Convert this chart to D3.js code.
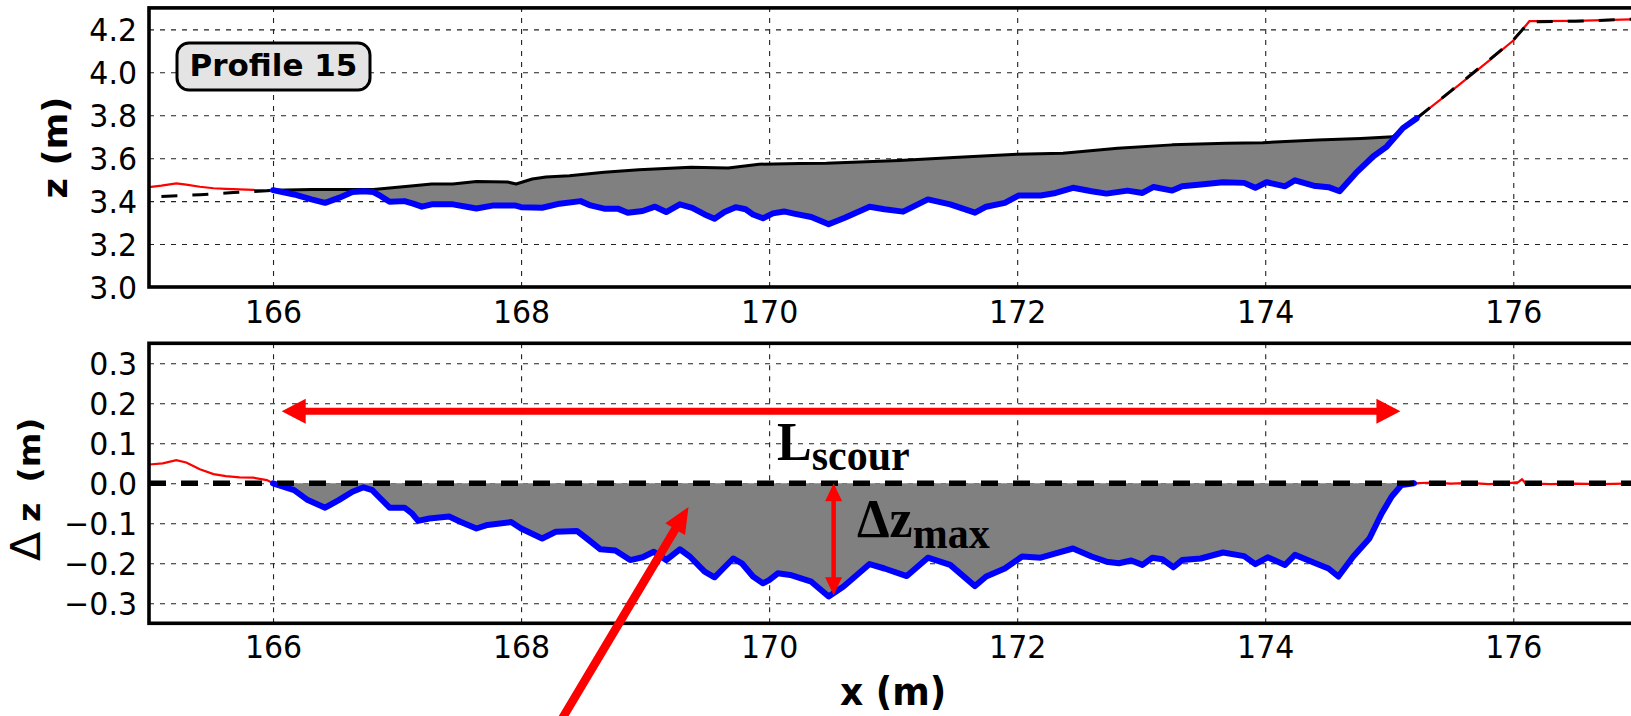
<!DOCTYPE html>
<html><head><meta charset="utf-8">
<script src="https://cdn.jsdelivr.net/npm/d3@7/dist/d3.min.js"></script>
<style>html,body{margin:0;padding:0;background:#fff;} svg{display:block;}</style>
</head><body>
<svg id="chart" width="1631" height="716"></svg>
<script>
// ---------------- DATA ----------------
const xTicks = [166, 168, 170, 172, 174, 176];
const xTickLabels = ["166", "168", "170", "172", "174", "176"];
const zTicks = [3.0, 3.2, 3.4, 3.6, 3.8, 4.0, 4.2];
const zTickLabels = ["3.0", "3.2", "3.4", "3.6", "3.8", "4.0", "4.2"];
const dzTicks = [-0.3, -0.2, -0.1, 0.0, 0.1, 0.2, 0.3];
const dzTickLabels = ["\u22120.3", "\u22120.2", "\u22120.1", "0.0", "0.1", "0.2", "0.3"];

// reference (initial) profile, black
const refX = [165.10, 165.41, 165.68, 165.95, 166.00, 166.31, 166.81, 167.09, 167.28, 167.45, 167.64, 167.89, 167.96, 168.09, 168.20, 168.39, 168.67, 168.95, 169.37, 169.67, 169.92, 170.25, 170.46, 171.05, 171.49, 172.00, 172.37, 172.81, 173.25, 173.69, 173.98, 174.42, 174.77, 175.03, 175.22, 175.50, 175.80, 176.00, 176.13, 176.50, 177.00];
const refZ = [3.422, 3.430, 3.440, 3.448, 3.451, 3.454, 3.454, 3.469, 3.480, 3.480, 3.491, 3.489, 3.480, 3.503, 3.512, 3.518, 3.534, 3.546, 3.558, 3.554, 3.572, 3.575, 3.576, 3.589, 3.603, 3.618, 3.623, 3.646, 3.662, 3.669, 3.672, 3.685, 3.692, 3.700, 3.785, 3.915, 4.055, 4.150, 4.235, 4.238, 4.248];

// measured profile outside the scour hole, red
const measLeftX = [165.00, 165.10, 165.22, 165.30, 165.41, 165.52, 165.62, 165.73, 165.84, 165.95, 166.00];
const measLeftZ = [3.465, 3.472, 3.483, 3.477, 3.467, 3.460, 3.457, 3.455, 3.452, 3.449, 3.450];
const measRightX = [175.22, 175.50, 175.80, 176.00, 176.13, 176.50, 176.95, 177.00];
const measRightZ = [3.785, 3.912, 4.052, 4.148, 4.238, 4.240, 4.247, 4.248];

// measured profile in the scour hole, blue
const scourX = [166.00, 166.17, 166.31, 166.42, 166.53, 166.64, 166.73, 166.81, 166.87, 166.94, 167.06, 167.13, 167.20, 167.28, 167.45, 167.56, 167.64, 167.78, 167.95, 168.00, 168.17, 168.31, 168.48, 168.56, 168.67, 168.78, 168.86, 168.98, 169.08, 169.17, 169.28, 169.38, 169.48, 169.56, 169.64, 169.73, 169.81, 169.87, 169.95, 170.03, 170.12, 170.20, 170.34, 170.48, 170.61, 170.81, 170.93, 171.08, 171.28, 171.46, 171.66, 171.75, 171.90, 172.01, 172.19, 172.31, 172.45, 172.60, 172.72, 172.89, 173.01, 173.10, 173.25, 173.33, 173.48, 173.66, 173.83, 173.92, 174.01, 174.16, 174.24, 174.39, 174.51, 174.60, 174.73, 174.87, 174.98, 175.11, 175.22];
const scourZ = [3.451, 3.431, 3.408, 3.392, 3.415, 3.442, 3.446, 3.442, 3.423, 3.397, 3.400, 3.388, 3.374, 3.385, 3.385, 3.374, 3.366, 3.380, 3.380, 3.372, 3.369, 3.388, 3.400, 3.380, 3.365, 3.365, 3.346, 3.354, 3.374, 3.349, 3.385, 3.369, 3.338, 3.318, 3.349, 3.372, 3.362, 3.338, 3.320, 3.343, 3.352, 3.342, 3.326, 3.292, 3.323, 3.374, 3.362, 3.351, 3.408, 3.385, 3.346, 3.374, 3.392, 3.426, 3.426, 3.438, 3.462, 3.446, 3.435, 3.449, 3.438, 3.466, 3.449, 3.469, 3.477, 3.488, 3.485, 3.462, 3.488, 3.469, 3.497, 3.472, 3.465, 3.446, 3.530, 3.608, 3.654, 3.740, 3.785];

// elevation change, lower panel
const dzLeftX = [165.00, 165.11, 165.22, 165.30, 165.41, 165.52, 165.62, 165.73, 165.84, 165.95, 166.00];
const dzLeft = [0.047, 0.050, 0.058, 0.052, 0.035, 0.023, 0.018, 0.015, 0.014, 0.008, 0.000];
const dzRightX = [175.20, 175.35, 175.50, 175.65, 175.80, 175.95, 176.04, 176.07, 176.10, 176.30, 176.50, 176.70, 176.90, 177.00];
const dzRight = [0.000, 0.002, -0.001, 0.001, -0.002, 0.000, 0.003, 0.010, 0.000, -0.002, -0.001, -0.002, -0.001, 0.000];
const dzScourX = [166.00, 166.17, 166.28, 166.42, 166.53, 166.64, 166.73, 166.80, 166.85, 166.94, 167.06, 167.12, 167.17, 167.26, 167.42, 167.51, 167.64, 167.73, 167.92, 168.00, 168.17, 168.28, 168.45, 168.53, 168.64, 168.76, 168.88, 168.98, 169.07, 169.17, 169.28, 169.36, 169.48, 169.56, 169.63, 169.71, 169.78, 169.87, 169.95, 170.00, 170.07, 170.17, 170.34, 170.48, 170.60, 170.81, 170.93, 171.11, 171.28, 171.46, 171.66, 171.75, 171.90, 172.04, 172.19, 172.31, 172.45, 172.60, 172.72, 172.82, 172.92, 173.01, 173.09, 173.17, 173.26, 173.33, 173.48, 173.66, 173.83, 173.92, 174.02, 174.16, 174.24, 174.39, 174.51, 174.59, 174.71, 174.84, 174.94, 175.02, 175.10, 175.20];
const dzScour = [0.000, -0.017, -0.042, -0.061, -0.042, -0.021, -0.010, -0.017, -0.033, -0.061, -0.061, -0.075, -0.094, -0.088, -0.083, -0.096, -0.113, -0.104, -0.097, -0.113, -0.138, -0.121, -0.119, -0.138, -0.165, -0.168, -0.192, -0.185, -0.171, -0.192, -0.165, -0.183, -0.221, -0.235, -0.213, -0.188, -0.200, -0.233, -0.250, -0.242, -0.225, -0.229, -0.246, -0.283, -0.258, -0.202, -0.213, -0.232, -0.186, -0.204, -0.257, -0.233, -0.213, -0.183, -0.186, -0.175, -0.163, -0.183, -0.196, -0.200, -0.193, -0.204, -0.186, -0.190, -0.210, -0.192, -0.188, -0.173, -0.182, -0.202, -0.185, -0.204, -0.179, -0.198, -0.213, -0.233, -0.183, -0.138, -0.075, -0.033, -0.004, 0.000];
const zeroX = [165.0, 177.0];
const zeroDz = [0.0, 0.0];

// scour limits & max depth (annotation, in data units)
const scourStart = 166.07, scourEnd = 175.09, lscourLevel = 0.18;
const dzMaxX = 170.52, dzMaxVal = -0.28;
const pointerTip = [169.35, -0.059], pointerTail = [168.27, -0.62];

// ---------------- LAYOUT ----------------
const W = 1631, H = 716;
const svg = d3.select("#chart");
svg.append("rect").attr("width", W).attr("height", H).attr("fill", "#fff");
const SY = 1.07;
const x = d3.scaleLinear().domain([165, 177]).range([149, 1637.3]);
const yTop = d3.scaleLinear().domain([3.0, 4.3]).range([287, 7.9]);
const yBot = d3.scaleLinear().domain([-0.35, 0.35]).range([623.3, 343.3]);
const zip = (xs, vs) => xs.map((d, i) => [d, vs[i]]);

const defs = svg.append("defs");
function panel(id, y) {
  const [y0, y1] = [y.range()[1], y.range()[0]];
  defs.append("clipPath").attr("id", id).append("rect")
    .attr("x", x.range()[0]).attr("y", y0).attr("width", x.range()[1] - x.range()[0]).attr("height", y1 - y0);
  return svg.append("g");
}

function grid(g, y, ticks) {
  const gx = g.append("g").attr("transform", `translate(0,${y.range()[0]})`)
    .call(d3.axisBottom(x).tickValues(xTicks).tickSize(-(y.range()[0] - y.range()[1])).tickFormat(""));
  const gy = g.append("g").attr("transform", `translate(${x.range()[0]},0)`)
    .call(d3.axisLeft(y).tickValues(ticks).tickSize(-(x.range()[1] - x.range()[0])).tickFormat(""));
  [gx, gy].forEach(a => {
    a.select(".domain").remove();
    a.selectAll("line").attr("stroke", "#222").attr("stroke-width", 1.1).attr("stroke-dasharray", "5,6");
  });
}

function tickLabels(g, y, ticks, labels, padY) {
  const gx = g.append("g").attr("transform", `translate(0,${y.range()[0]})`)
    .call(d3.axisBottom(x).tickValues(xTicks).tickSize(0).tickPadding(padY).tickFormat((d, i) => xTickLabels[i]));
  const gy = g.append("g").attr("transform", `translate(${x.range()[0]},0)`)
    .call(d3.axisLeft(y).tickValues(ticks).tickSize(0).tickPadding(12).tickFormat((d, i) => labels[i]));
  [gx, gy].forEach(a => {
    a.select(".domain").remove();
    a.selectAll("text").attr("font-family", "DejaVu Sans").attr("font-size", 30).attr("fill", "#000")
      .attr("transform", `scale(1,${SY})`);
  });
  gy.selectAll("text").attr("dy", "0.36em");
}

function spines(g, y) {
  g.append("rect").attr("x", x.range()[0]).attr("y", y.range()[1])
    .attr("width", x.range()[1] - x.range()[0]).attr("height", y.range()[0] - y.range()[1])
    .attr("fill", "none").attr("stroke", "#000").attr("stroke-width", 3.6);
}

function arrowPoly(x1, y1, x2, y2, w, hl, hw, dbl) {
  const dx = x2 - x1, dy = y2 - y1, L = Math.hypot(dx, dy), ux = dx / L, uy = dy / L, nx = -uy, ny = ux;
  const P = (t, s) => [x1 + ux * t + nx * s, y1 + uy * t + ny * s];
  const pts = dbl
    ? [P(0, 0), P(hl, hw / 2), P(hl, w / 2), P(L - hl, w / 2), P(L - hl, hw / 2), P(L, 0), P(L - hl, -hw / 2), P(L - hl, -w / 2), P(hl, -w / 2), P(hl, -hw / 2)]
    : [P(0, w / 2), P(L - hl, w / 2), P(L - hl, hw / 2), P(L, 0), P(L - hl, -hw / 2), P(L - hl, -w / 2), P(0, -w / 2)];
  return pts.map(p => p.join(",")).join(" ");
}

// ---------------- TOP PANEL ----------------
const topG = panel("clipTop", yTop);
grid(topG, yTop, zTicks);
const topPlot = topG.append("g").attr("clip-path", "url(#clipTop)");
const lineTop = d3.line().x(d => x(d[0])).y(d => yTop(d[1]));
const refPts = zip(refX, refZ);
const scourPts = zip(scourX, scourZ);
const fillPoly = scourPts.filter(d => d[0] <= 175.0)
  .concat(refPts.filter(d => d[0] >= 166.0 && d[0] <= 175.03).reverse());
topPlot.append("path").attr("d", lineTop(fillPoly) + "Z").attr("fill", "#808080").attr("stroke", "none");
[zip(measLeftX, measLeftZ), zip(measRightX, measRightZ)].forEach(p =>
  topPlot.append("path").attr("d", lineTop(p)).attr("fill", "none").attr("stroke", "#ff0000").attr("stroke-width", 2.2));
topPlot.append("path").attr("d", lineTop(refPts.filter(d => d[0] <= 166.0))).attr("fill", "none")
  .attr("stroke", "#000").attr("stroke-width", 3).attr("stroke-dasharray", "16,15");
topPlot.append("path").attr("d", lineTop(refPts.filter(d => d[0] >= 175.03))).attr("fill", "none")
  .attr("stroke", "#000").attr("stroke-width", 3).attr("stroke-dasharray", "16,15");
topPlot.append("path").attr("d", lineTop(refPts.filter(d => d[0] >= 166.0 && d[0] <= 175.03))).attr("fill", "none")
  .attr("stroke", "#000").attr("stroke-width", 3).attr("stroke-linejoin", "round");
topPlot.append("path").attr("d", lineTop(scourPts)).attr("fill", "none")
  .attr("stroke", "#0000ff").attr("stroke-width", 6).attr("stroke-linejoin", "round").attr("stroke-linecap", "round");
spines(topG, yTop);
tickLabels(topG, yTop, zTicks, zTickLabels, 12);

topG.append("rect").attr("x", 177).attr("y", 43).attr("width", 193).attr("height", 47).attr("rx", 12)
  .attr("fill", "#e4e4e4").attr("stroke", "#000").attr("stroke-width", 3);
topG.append("text").attr("x", 273.5).attr("y", 76).attr("text-anchor", "middle")
  .attr("font-family", "DejaVu Sans").attr("font-weight", "bold").attr("font-size", 31).text("Profile 15");

// ---------------- BOTTOM PANEL ----------------
const botG = panel("clipBot", yBot);
grid(botG, yBot, dzTicks);
const botPlot = botG.append("g").attr("clip-path", "url(#clipBot)");
const lineBot = d3.line().x(d => x(d[0])).y(d => yBot(d[1]));
[zip(dzLeftX, dzLeft), zip(dzRightX, dzRight)].forEach(p =>
  botPlot.append("path").attr("d", lineBot(p)).attr("fill", "none").attr("stroke", "#ff0000").attr("stroke-width", 2.2));
const dzPts = zip(dzScourX, dzScour);
botPlot.append("path").attr("d", d3.area().x(d => x(d[0])).y0(yBot(0)).y1(d => yBot(d[1]))(dzPts))
  .attr("fill", "#808080");
botPlot.append("path").attr("d", lineBot(dzPts)).attr("fill", "none")
  .attr("stroke", "#0000ff").attr("stroke-width", 6).attr("stroke-linejoin", "round").attr("stroke-linecap", "round");
botPlot.append("path").attr("d", lineBot(zip(zeroX, zeroDz))).attr("fill", "none")
  .attr("stroke", "#000").attr("stroke-width", 5.5).attr("stroke-dasharray", "17,15");
spines(botG, yBot);
tickLabels(botG, yBot, dzTicks, dzTickLabels, 11);

const ann = svg.append("g").attr("fill", "#ff0000");
ann.append("polygon").attr("points", arrowPoly(x(scourStart), yBot(lscourLevel), x(scourEnd), yBot(lscourLevel), 7, 24, 25, true));
ann.append("polygon").attr("points", arrowPoly(x(dzMaxX), yBot(0), x(dzMaxX), yBot(dzMaxVal), 4.5, 18, 17, true));
ann.append("polygon").attr("points", arrowPoly(x(pointerTail[0]), yBot(pointerTail[1]), x(pointerTip[0]), yBot(pointerTip[1]), 8.5, 26, 23, false));

const serif = "Liberation Serif";
const t1 = svg.append("text").attr("transform", `translate(777,460) scale(1,${SY})`)
  .attr("font-family", serif).attr("font-weight", "bold").attr("fill", "#000");
t1.append("tspan").attr("font-size", 52).text("L");
t1.append("tspan").attr("font-size", 42).attr("dy", 9).text("scour");
const t2 = svg.append("text").attr("transform", `translate(857,537) scale(1,${SY})`)
  .attr("font-family", serif).attr("font-weight", "bold").attr("fill", "#000");
t2.append("tspan").attr("font-size", 52).text("\u0394z");
t2.append("tspan").attr("font-size", 42).attr("dy", 10).text("max");

// axis titles
svg.append("text").attr("transform", `translate(67,${(yTop.range()[0] + yTop.range()[1]) / 2}) scale(1,${SY}) rotate(-90)`)
  .attr("text-anchor", "middle").attr("font-family", "DejaVu Sans").attr("font-weight", "bold")
  .attr("font-size", 33).text("z (m)");
const dzl = svg.append("text").attr("transform", `translate(40,561) scale(1,${SY}) rotate(-90)`)
  .attr("text-anchor", "start").attr("font-family", "DejaVu Sans");
dzl.append("tspan").attr("font-size", 40).attr("font-weight", "normal").text("\u0394");
dzl.append("tspan").attr("font-size", 31).attr("font-weight", "bold").attr("dx", 9).text("z");
dzl.append("tspan").attr("font-size", 31).attr("font-weight", "bold").attr("dx", 19).text("(m)");
svg.append("text").attr("transform", `translate(${(x.range()[0] + x.range()[1]) / 2},705) scale(1,${SY})`)
  .attr("text-anchor", "middle").attr("font-family", "DejaVu Sans").attr("font-weight", "bold")
  .attr("font-size", 36).text("x (m)");
</script>
</body></html>
